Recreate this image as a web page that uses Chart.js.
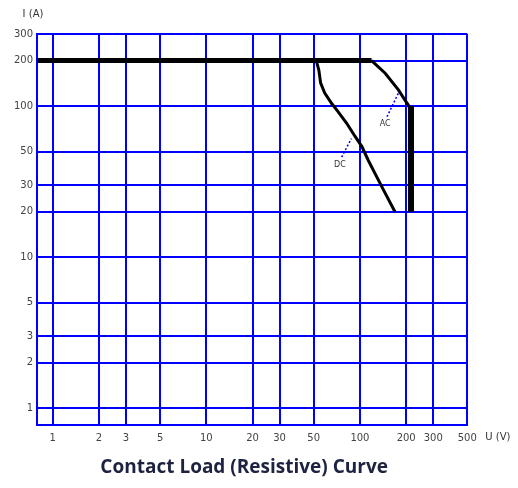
<!DOCTYPE html>
<html>
<head>
<meta charset="utf-8">
<script src="https://cdn.jsdelivr.net/npm/chart.js@4"></script>
<style>
  body { margin: 0; background: #fff; }
</style>
</head>
<body>
<canvas id="loadChart" width="518" height="488"></canvas>
<script>
// axis ticks (log scales)
const voltTicks = [1, 2, 3, 5, 10, 20, 30, 50, 100, 200, 300, 500];
const currentTicks = [1, 2, 3, 5, 10, 20, 30, 50, 100, 200, 300];

// rated current, flat part shared by AC and DC
const flatU = [0.79, 119];
const flatI = [200, 200];

// AC curve
const acU = [119, 146, 178, 196, 206, 215];
const acI = [200, 165, 128, 110, 102, 94];
const acDropU = [215, 215];
const acDropI = [100, 20];

// DC curve
const dcU = [52, 54, 55.5, 59, 65.5, 72, 82, 93, 103, 113, 125, 142, 169];
const dcI = [200, 173, 142, 122, 104, 92, 77, 63, 54, 44, 36, 28, 20];

// label leaders
const acLeadU = [150, 178];
const acLeadI = [85, 122];
const dcLeadU = [76, 88];
const dcLeadI = [46, 61];
const acTag = [146, 76];
const dcTag = [74, 41];

const caption = 'Contact Load (Resistive) Curve';

function pts(xs, ys) {
    return xs.map((v, i) => ({ x: v, y: ys[i] }));
}

const extraText = {
    id: 'extraText',
    afterDraw(chart) {
        const { ctx, chartArea, scales: { x, y } } = chart;
        ctx.save();
        ctx.fillStyle = '#333';
        ctx.font = '10px "DejaVu Sans"';
        ctx.textAlign = 'center';
        ctx.textBaseline = 'middle';
        ctx.fillText('I (A)', chartArea.left - 4, chartArea.top - 20);
        ctx.textAlign = 'left';
        ctx.fillText('U (V)', chartArea.right + 18, chartArea.bottom + 13);

        ctx.textAlign = 'center';
        ctx.font = '8px "DejaVu Sans"';
        ctx.fillText('AC', x.getPixelForValue(acTag[0]), y.getPixelForValue(acTag[1]));
        ctx.fillText('DC', x.getPixelForValue(dcTag[0]), y.getPixelForValue(dcTag[1]));

        ctx.font = 'bold 19px "Open Sans"';
        ctx.fillStyle = '#1c2240';
        ctx.fillText(caption, (chartArea.left + chartArea.right) / 2 - 8, chartArea.bottom + 43);
        ctx.restore();
    }
};

const lineBase = { pointRadius: 0, tension: 0, fill: false, borderColor: '#000', borderJoinStyle: 'miter' };

new Chart(document.getElementById('loadChart'), {
    type: 'line',
    data: {
        datasets: [
            { ...lineBase, data: pts(flatU, flatI), borderWidth: 5 },
            { ...lineBase, data: pts(acU, acI), borderWidth: 3 },
            { ...lineBase, data: pts(acDropU, acDropI), borderWidth: 6 },
            { ...lineBase, data: pts(dcU, dcI), borderWidth: 3 },
            { ...lineBase, data: pts(acLeadU, acLeadI), borderWidth: 1.5, borderColor: '#0000ff', borderDash: [2, 2] },
            { ...lineBase, data: pts(dcLeadU, dcLeadI), borderWidth: 1.5, borderColor: '#0000ff', borderDash: [2, 2] }
        ]
    },
    options: {
        responsive: false,
        animation: false,
        layout: { padding: { left: 0, top: 34, right: 50.7, bottom: 38.3 } },
        plugins: { legend: { display: false }, tooltip: { enabled: false } },
        scales: {
            x: {
                type: 'logarithmic',
                min: 0.79,
                max: 500,
                afterBuildTicks: (axis) => { axis.ticks = voltTicks.map(v => ({ value: v })); },
                afterFit: (axis) => { axis.height = 25; },
                grid: { color: '#0000ff', lineWidth: 2, drawTicks: false },
                border: { color: '#0000ff', width: 2 },
                ticks: {
                    autoSkip: false, maxRotation: 0, padding: 8,
                    color: '#444', font: { family: 'DejaVu Sans', size: 10 },
                    callback: (v) => String(v)
                }
            },
            y: {
                type: 'logarithmic',
                min: 0.78,
                max: 300,
                afterBuildTicks: (axis) => { axis.ticks = currentTicks.map(v => ({ value: v })); },
                afterFit: (axis) => { axis.width = 37; },
                grid: { color: '#0000ff', lineWidth: 2, drawTicks: false },
                border: { color: '#0000ff', width: 2 },
                ticks: {
                    autoSkip: false, padding: 4,
                    color: '#444', font: { family: 'DejaVu Sans', size: 10 },
                    callback: (v) => String(v)
                }
            }
        }
    },
    plugins: [extraText]
});
</script>
</body>
</html>
